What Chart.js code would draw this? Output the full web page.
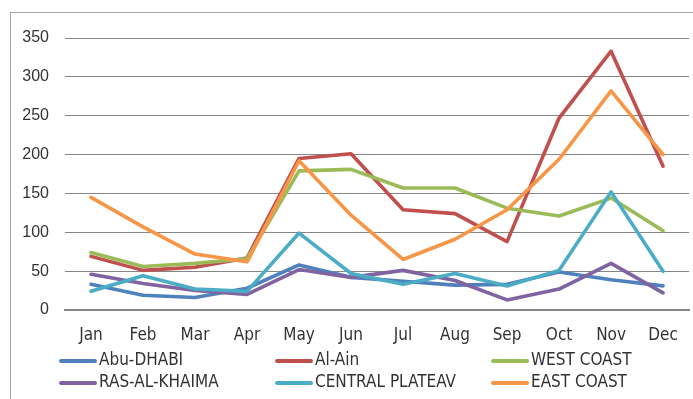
<!DOCTYPE html>
<html>
<head>
<meta charset="utf-8">
<script src="https://cdn.jsdelivr.net/npm/chart.js@4/dist/chart.umd.min.js"></script>
<style>
  html, body { margin: 0; padding: 0; background: #ffffff; }
  #wrap { width: 693px; height: 399px; }
</style>
</head>
<body>
<div id="wrap"><canvas id="c" width="693" height="399"></canvas></div>
<script>
// Monthly values per region
const months = ['Jan', 'Feb', 'Mar', 'Apr', 'May', 'Jun', 'Jul', 'Aug', 'Sep', 'Oct', 'Nov', 'Dec'];
const abuDhabi      = [33, 19, 16, 28, 58, 42, 37, 32, 33, 49, 39, 31];
const alAin         = [69, 51, 55, 67, 195, 201, 129, 124, 88, 247, 333, 185];
const westCoast     = [74, 56, 60, 66, 179, 181, 157, 157, 131, 121, 144, 102];
const rasAlKhaima   = [46, 34, 25, 20, 52, 42, 51, 38, 13, 27, 60, 22];
const centralPlat   = [24, 44, 27, 24, 99, 47, 33, 47, 31, 51, 152, 50];
const eastCoast     = [145, 107, 72, 62, 192, 122, 65, 91, 129, 194, 282, 200];
const yTicks        = [0, 50, 100, 150, 200, 250, 300, 350];

const seriesNames  = ['Abu-DHABI', 'Al-Ain', 'WEST COAST', 'RAS-AL-KHAIMA', 'CENTRAL PLATEAV', 'EAST COAST'];
const seriesValues = [abuDhabi, alAin, westCoast, rasAlKhaima, centralPlat, eastCoast];
const seriesColors = ['#4F81BD', '#C0504D', '#9BBB59', '#8064A2', '#4BACC6', '#F79646'];

const labelFont = "'Liberation Sans Narrow', 'DejaVu Sans Condensed', 'Liberation Sans', sans-serif";
const textColor = '#333333';

// Outer frame around the chart
const framePlugin = {
  id: 'frame',
  beforeDraw(chart) {
    const ctx = chart.ctx;
    ctx.save();
    ctx.fillStyle = '#ffffff';
    ctx.fillRect(0, 0, chart.width, chart.height);
    ctx.strokeStyle = '#a6a6a6';
    ctx.lineWidth = 1;
    ctx.strokeRect(10.5, 12.5, chart.width + 20, chart.height + 20);
    ctx.restore();
  }
};

// Legend laid out as a three-column grid below the axis
const gridLegendPlugin = {
  id: 'gridLegend',
  afterDraw(chart) {
    const ctx = chart.ctx;
    const x0 = 59, colW = 216, y0 = 361, rowH = 22, lineLen = 38;
    ctx.save();
    ctx.font = '17px ' + labelFont;
    ctx.textBaseline = 'middle';
    ctx.textAlign = 'left';
    chart.data.datasets.forEach((ds, i) => {
      const x = x0 + (i % 3) * colW;
      const y = y0 + Math.floor(i / 3) * rowH;
      ctx.strokeStyle = ds.borderColor;
      ctx.lineWidth = 4;
      ctx.lineCap = 'round';
      ctx.beginPath();
      ctx.moveTo(x + 2, y);
      ctx.lineTo(x + lineLen - 2, y);
      ctx.stroke();
      ctx.fillStyle = textColor;
      ctx.fillText(ds.label, x + lineLen + 2, y);
    });
    ctx.restore();
  }
};

const datasets = seriesNames.map((name, i) => ({
  label: name,
  data: seriesValues[i],
  borderColor: seriesColors[i],
  backgroundColor: seriesColors[i],
  borderWidth: 3.6,
  borderJoinStyle: 'round',
  borderCapStyle: 'round',
  pointRadius: 0,
  pointHoverRadius: 0,
  tension: 0,
  fill: false,
  order: seriesNames.length - i
}));

new Chart(document.getElementById('c'), {
  type: 'line',
  data: { labels: months, datasets },
  plugins: [framePlugin, gridLegendPlugin],
  options: {
    responsive: false,
    animation: false,
    devicePixelRatio: 1,
    layout: { padding: { left: 10, top: 38, right: 3, bottom: 44 } },
    plugins: {
      legend: { display: false },
      tooltip: { enabled: false }
    },
    scales: {
      x: {
        offset: true,
        grid: { display: false, drawTicks: false },
        border: { display: true, color: '#868686', width: 2 },
        ticks: {
          padding: 15,
          color: textColor,
          font: { family: labelFont, size: 17 },
          maxRotation: 0,
          autoSkip: false
        },
        afterFit(scale) { scale.height = 45; }
      },
      y: {
        min: yTicks[0],
        max: yTicks[yTicks.length - 1],
        afterBuildTicks(scale) { scale.ticks = yTicks.map(v => ({ value: v })); },
        grid: { color: '#868686', lineWidth: 1, drawTicks: false },
        border: { display: false },
        ticks: {
          padding: 16,
          color: textColor,
          font: { family: "'Liberation Sans', sans-serif", size: 16 }
        },
        afterFit(scale) { scale.width = 55; }
      }
    }
  }
});
</script>
</body>
</html>
